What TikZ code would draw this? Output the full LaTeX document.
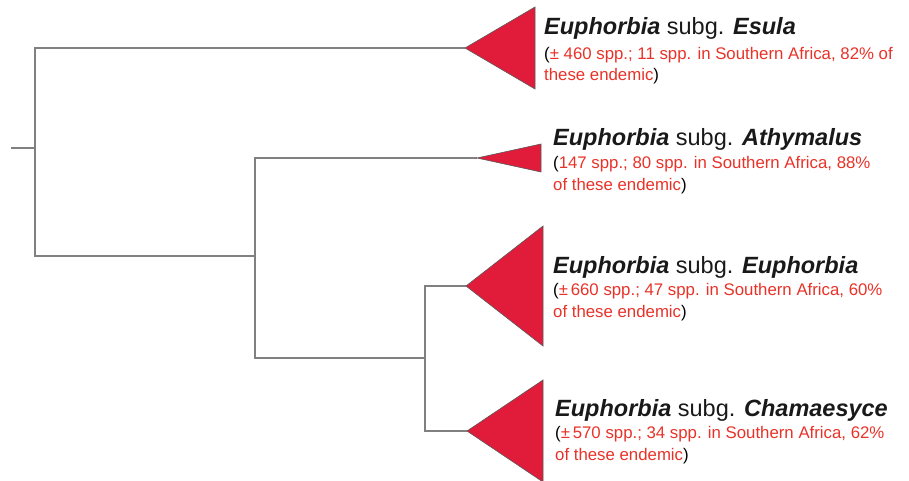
\documentclass[tikz,border=0pt]{standalone}
\usepackage{fontspec}
\setmainfont{Liberation Sans}
\usetikzlibrary{calc,positioning}
\definecolor{CladeRed}{RGB}{225,28,58}
\definecolor{NoteRed}{RGB}{232,50,40}
\definecolor{TreeGray}{RGB}{128,128,128}
\newcommand{\subgname}[1]{\textbf{\textit{Euphorbia}} subg. \textbf{\textit{#1}}}

\begin{document}
\begin{tikzpicture}[x=1pt,y=-1pt,
    branch/.style={draw=TreeGray,line width=1.4pt},
    clade/.style={fill=CladeRed,draw=black!65,line width=.6pt,line join=miter},
    title/.style={anchor=base west,inner sep=0pt,font=\fontsize{23.5}{26}\selectfont,text=black!90},
    note/.style={anchor=base west,inner sep=0pt,align=left,font=\fontsize{16.8}{21.5}\selectfont,text=NoteRed}]
  \useasboundingbox (0,0) rectangle (909,481);
  % internal nodes of the tree
  \coordinate (stub) at (11,148);
  \coordinate (root) at (35,148);
  \coordinate (n1) at (255,256);
  \coordinate (n2) at (425,358);
  % tips of the collapsed clades
  \coordinate (esula) at (465,48);
  \coordinate (athy) at (477,158);
  \coordinate (euph) at (466,286);
  \coordinate (cham) at (467,431);
  % branches
  \draw[branch] (stub) -- (root);
  \draw[branch] (esula) -| (root) |- (n1);
  \draw[branch] (athy) -| (n1) |- (n2);
  \draw[branch] (euph) -| (n2) |- (cham);
  % collapsed clades
  \foreach \t/\w/\h in {esula/70/41,athy/64/14,euph/77/60,cham/76/51}
    \draw[clade] (\t) -- ++(\w,-\h) -- ++(0,2*\h) -- cycle;
  % labels (note anchors sit on the last line)
  \node[title] (tesula) at (544,35) {\subgname{Esula}};
  \node[note] (nesula) at (544,81) {{\color{black}(}± 460 spp.; 11 spp. in Southern Africa, 82\% of\\these endemic{\color{black})}};
  \node[title] (tathy) at (553,146) {\subgname{Athymalus}};
  \node[note] (nathy) at (553,190) {{\color{black}(}147 spp.; 80 spp. in Southern Africa, 88\%\\of these endemic{\color{black})}};
  \node[title] (teuph) at (553,273) {\subgname{Euphorbia}};
  \node[note] (neuph) at (553,317) {{\color{black}(}±\,660 spp.; 47 spp. in Southern Africa, 60\%\\of these endemic{\color{black})}};
  \node[title] (tcham) at (555,416) {\subgname{Chamaesyce}};
  \node[note] (ncham) at (555,460) {{\color{black}(}±\,570 spp.; 34 spp. in Southern Africa, 62\%\\of these endemic{\color{black})}};
\end{tikzpicture}
\end{document}
